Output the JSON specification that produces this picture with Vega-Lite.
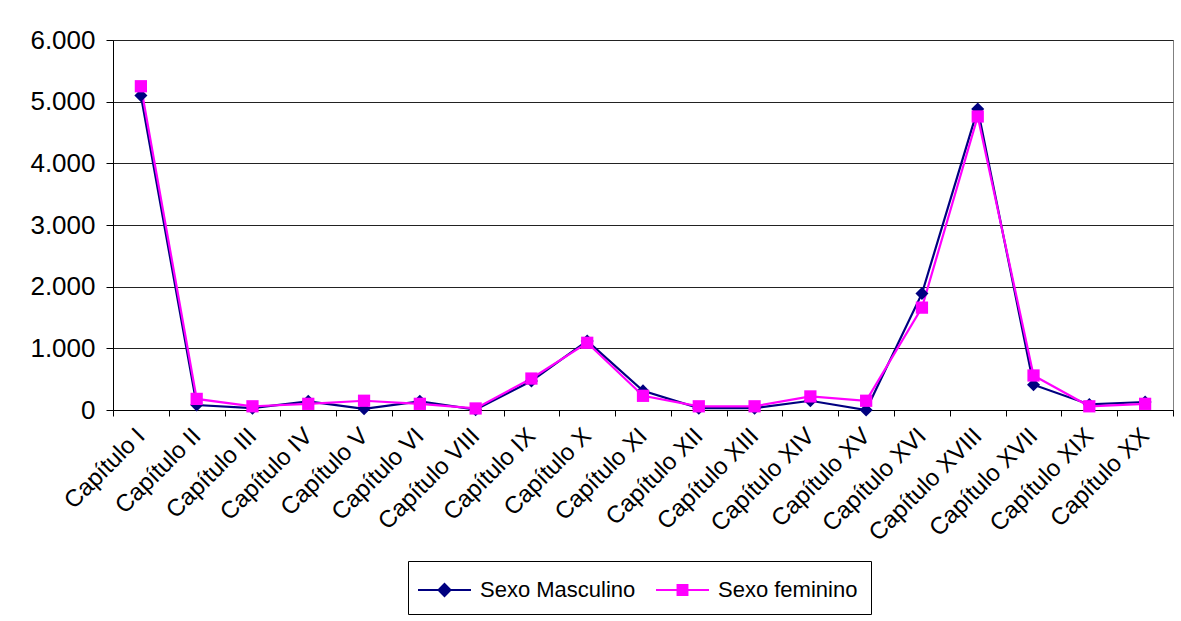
{
  "$schema": "https://vega.github.io/schema/vega-lite/v6.json",
  "width": 1060,
  "height": 370,
  "autosize": {"type": "none"},
  "padding": {"left": 113, "top": 40, "right": 8, "bottom": 211},
  "background": "white",
  "config": {
    "font": "Liberation Sans",
    "view": {"stroke": "#808080", "strokeWidth": 1}
  },
  "data": {
    "values": [
      {"cap": "Capítulo I", "sexo": "Sexo Masculino", "v": 5100},
      {"cap": "Capítulo II", "sexo": "Sexo Masculino", "v": 80},
      {"cap": "Capítulo III", "sexo": "Sexo Masculino", "v": 30},
      {"cap": "Capítulo IV", "sexo": "Sexo Masculino", "v": 140},
      {"cap": "Capítulo V", "sexo": "Sexo Masculino", "v": 20},
      {"cap": "Capítulo VI", "sexo": "Sexo Masculino", "v": 140},
      {"cap": "Capítulo VIII", "sexo": "Sexo Masculino", "v": 5},
      {"cap": "Capítulo IX", "sexo": "Sexo Masculino", "v": 470},
      {"cap": "Capítulo X", "sexo": "Sexo Masculino", "v": 1120},
      {"cap": "Capítulo XI", "sexo": "Sexo Masculino", "v": 310},
      {"cap": "Capítulo XII", "sexo": "Sexo Masculino", "v": 30},
      {"cap": "Capítulo XIII", "sexo": "Sexo Masculino", "v": 30},
      {"cap": "Capítulo XIV", "sexo": "Sexo Masculino", "v": 150},
      {"cap": "Capítulo XV", "sexo": "Sexo Masculino", "v": 0},
      {"cap": "Capítulo XVI", "sexo": "Sexo Masculino", "v": 1890},
      {"cap": "Capítulo XVIII", "sexo": "Sexo Masculino", "v": 4880},
      {"cap": "Capítulo XVII", "sexo": "Sexo Masculino", "v": 410},
      {"cap": "Capítulo XIX", "sexo": "Sexo Masculino", "v": 90},
      {"cap": "Capítulo XX", "sexo": "Sexo Masculino", "v": 130},
      {"cap": "Capítulo I", "sexo": "Sexo feminino", "v": 5250},
      {"cap": "Capítulo II", "sexo": "Sexo feminino", "v": 180},
      {"cap": "Capítulo III", "sexo": "Sexo feminino", "v": 60},
      {"cap": "Capítulo IV", "sexo": "Sexo feminino", "v": 100},
      {"cap": "Capítulo V", "sexo": "Sexo feminino", "v": 150},
      {"cap": "Capítulo VI", "sexo": "Sexo feminino", "v": 100},
      {"cap": "Capítulo VIII", "sexo": "Sexo feminino", "v": 25},
      {"cap": "Capítulo IX", "sexo": "Sexo feminino", "v": 510},
      {"cap": "Capítulo X", "sexo": "Sexo feminino", "v": 1090},
      {"cap": "Capítulo XI", "sexo": "Sexo feminino", "v": 230},
      {"cap": "Capítulo XII", "sexo": "Sexo feminino", "v": 60},
      {"cap": "Capítulo XIII", "sexo": "Sexo feminino", "v": 60},
      {"cap": "Capítulo XIV", "sexo": "Sexo feminino", "v": 220},
      {"cap": "Capítulo XV", "sexo": "Sexo feminino", "v": 150},
      {"cap": "Capítulo XVI", "sexo": "Sexo feminino", "v": 1660},
      {"cap": "Capítulo XVIII", "sexo": "Sexo feminino", "v": 4760},
      {"cap": "Capítulo XVII", "sexo": "Sexo feminino", "v": 560},
      {"cap": "Capítulo XIX", "sexo": "Sexo feminino", "v": 60},
      {"cap": "Capítulo XX", "sexo": "Sexo feminino", "v": 100}
    ]
  },
  "encoding": {
    "x": {
      "field": "cap",
      "type": "ordinal",
      "sort": ["Capítulo I", "Capítulo II", "Capítulo III", "Capítulo IV", "Capítulo V", "Capítulo VI", "Capítulo VIII", "Capítulo IX", "Capítulo X", "Capítulo XI", "Capítulo XII", "Capítulo XIII", "Capítulo XIV", "Capítulo XV", "Capítulo XVI", "Capítulo XVIII", "Capítulo XVII", "Capítulo XIX", "Capítulo XX"],
      "scale": {"type": "band", "paddingInner": 0, "paddingOuter": 0},
      "axis": {
        "title": null,
        "grid": false,
        "tickBand": "extent",
        "labelAngle": -45,
        "labelAlign": "right",
        "labelBaseline": "middle",
        "labelOffset": 0,
        "labelFontSize": 24,
        "labelColor": "black",
        "labelPadding": 16,
        "domainColor": "black",
        "tickColor": "black",
        "tickSize": 6
      }
    },
    "y": {
      "field": "v",
      "type": "quantitative",
      "scale": {"domain": [0, 6000], "nice": false},
      "axis": {
        "title": null,
        "values": [0, 1000, 2000, 3000, 4000, 5000, 6000],
        "labelExpr": "replace(format(datum.value, ','), ',', '.')",
        "labelFontSize": 26,
        "labelColor": "black",
        "labelPadding": 11,
        "gridColor": "#222222",
        "gridWidth": 1,
        "domainColor": "black",
        "tickColor": "black",
        "tickSize": 7
      }
    },
    "color": {
      "field": "sexo",
      "type": "nominal",
      "scale": {"domain": ["Sexo Masculino", "Sexo feminino"], "range": ["#000080", "#FF00FF"]},
      "legend": {
        "title": null,
        "orient": "none",
        "legendX": 295,
        "legendY": 521,
        "direction": "horizontal",
        "strokeColor": "black",
        "fillColor": "white",
        "cornerRadius": 0,
        "padding": 13,
        "symbolSize": 900,
        "symbolType": "M-1.267,0H2.267M0.5,-0.4L0.9,0L0.5,0.4L0.1,0Z",
        "symbolStrokeWidth": 2,
        "labelFontSize": 22,
        "labelColor": "black",
        "labelOffset": 27,
        "columnPadding": 15,
        "encode": {
          "symbols": {
            "update": {
              "shape": {"signal": "datum.value == 'Sexo Masculino' ? 'M-1.267,0H2.267M0.5,-0.4L0.9,0L0.5,0.4L0.1,0Z' : 'M-1.267,0H2.267M0.17,-0.33H0.83V0.33H0.17Z'"},
              "fill": {"signal": "datum.value == 'Sexo Masculino' ? '#000080' : '#FF00FF'"},
              "stroke": {"signal": "datum.value == 'Sexo Masculino' ? '#000080' : '#FF00FF'"},
              "strokeWidth": {"value": 2},
              "opacity": {"value": 1},
              "fillOpacity": {"value": 1},
              "strokeOpacity": {"value": 1}
            }
          }
        }
      }
    }
  },
  "layer": [
    {
      "mark": {"type": "line", "strokeWidth": 2.2}
    },
    {
      "transform": [{"filter": "datum.sexo == 'Sexo Masculino'"}],
      "mark": {"type": "point", "shape": "diamond", "filled": true, "opacity": 1, "size": 170}
    },
    {
      "transform": [{"filter": "datum.sexo == 'Sexo feminino'"}],
      "mark": {"type": "point", "shape": "square", "filled": true, "opacity": 1, "size": 150}
    }
  ]
}
